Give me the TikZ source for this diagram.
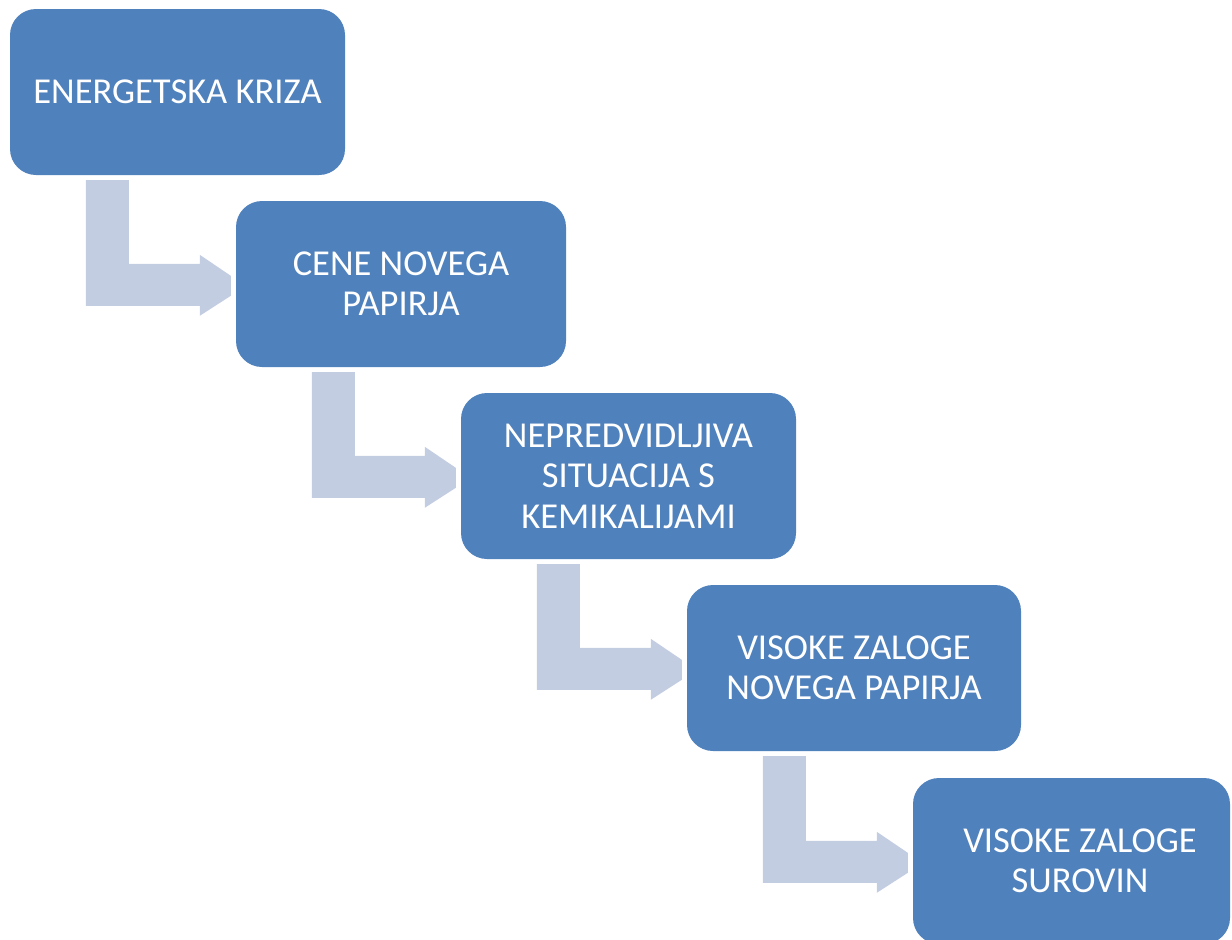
\documentclass[tikz,border=0pt]{standalone}
\usepackage{fontspec}
\setmainfont{Carlito}
\usetikzlibrary{calc}
\definecolor{boxblue}{HTML}{4F81BD}
\definecolor{arrowgray}{HTML}{C3CDE2}
\begin{document}
\begin{tikzpicture}[x=1pt,y=-1pt,
  stagebox/.style={fill=boxblue, rounded corners=26pt, minimum width=335pt, minimum height=166pt, inner sep=0pt, align=center, text=white, font=\fontsize{36.5}{40.5}\selectfont},
  stagetext/.style={inner sep=0pt, align=center, text=white, font=\fontsize{36.5}{40.5}\selectfont},
  bentarrow/.style={fill=arrowgray}]
\useasboundingbox (0,0) rectangle (1232,940);
\begin{scope}
\clip (0,0) rectangle (1232,940);
\node[stagebox] (a) at (177.5,92) {ENERGETSKA KRIZA};
\node[stagebox, minimum width=330pt] (b) at (401,284) {CENE NOVEGA\\PAPIRJA};
\node[stagebox] (c) at (628.5,476) {NEPREDVIDLJIVA\\SITUACIJA S\\KEMIKALIJAMI};
\node[stagebox, minimum width=334pt] (d) at (854,668) {VISOKE ZALOGE\\NOVEGA PAPIRJA};
\node[stagebox, minimum width=317pt, minimum height=166pt] (e) at (1071.5,861) {};
\node[stagetext] (et) at (1080,861) {VISOKE ZALOGE\\SUROVIN};
\foreach \s/\t in {a/b, b/c, c/d, d/e}{
  \fill[bentarrow] let \p1=($(\s.south west)+(76,5)$), \p2=($(\t.north west)+(0,83)$) in
    (\x1,\y1) -- (\x1+43pt,\y1) -- (\x1+43pt,\y2+20pt) -- (\x2-36pt,\y2+20pt)
    -- (\x2-36pt,\y2+29pt) -- (\x2-5pt,\y2+8pt) -- (\x2-5pt,\y2-12pt)
    -- (\x2-36pt,\y2-32pt) -- (\x2-36pt,\y2-22pt) -- (\x1,\y2-22pt) -- cycle;
}
\end{scope}
\end{tikzpicture}
\end{document}
